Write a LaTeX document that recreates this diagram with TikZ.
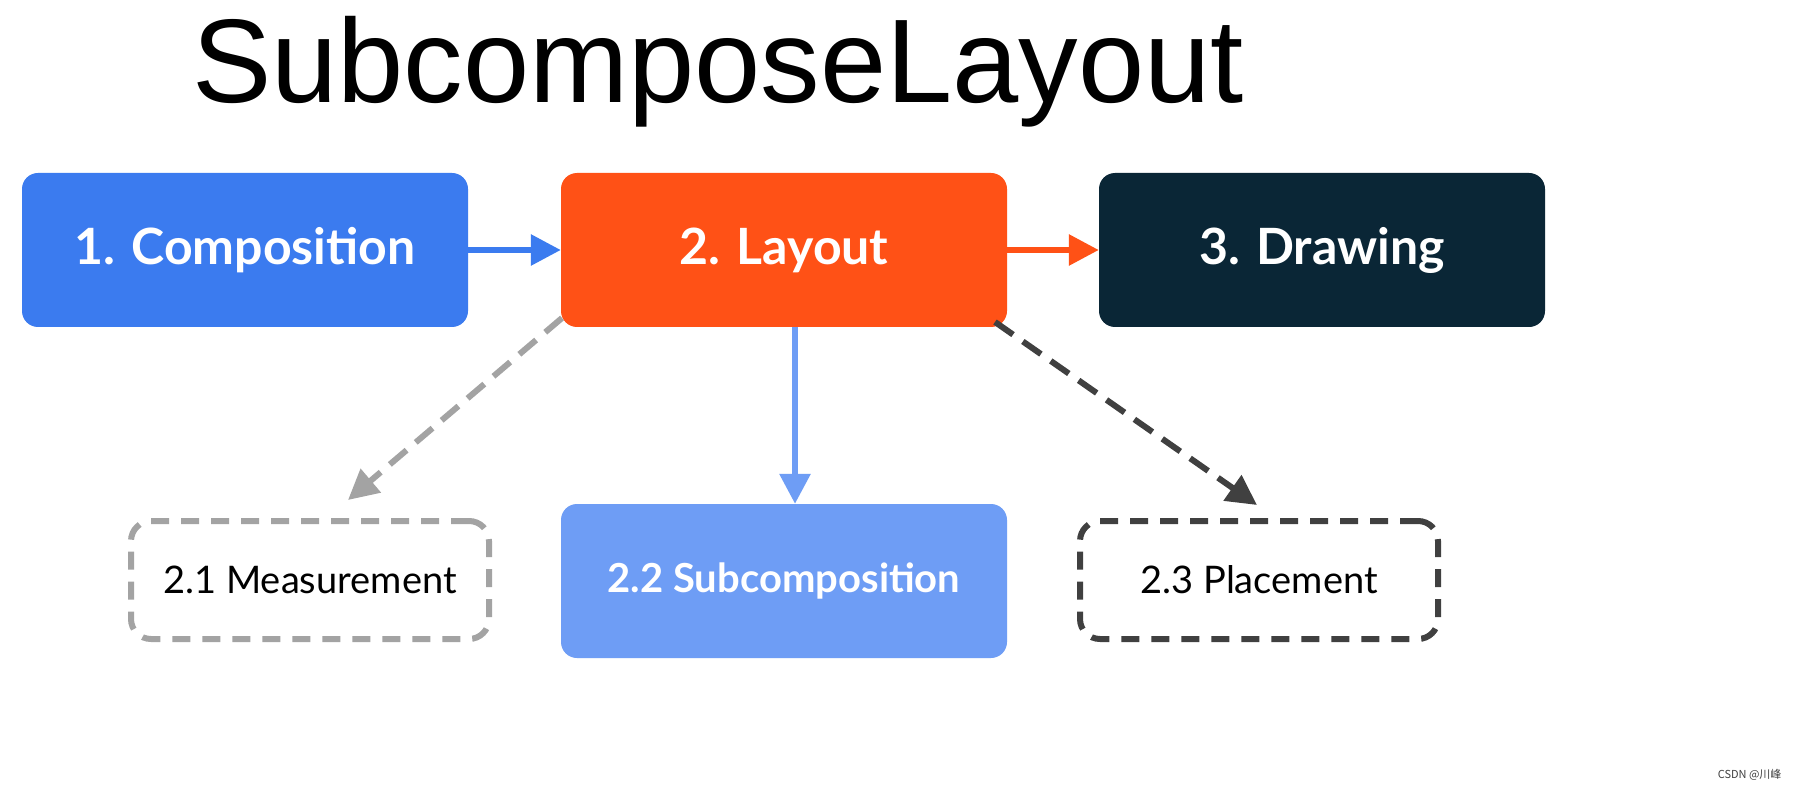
\documentclass[tikz,border=0pt]{standalone}
\usepackage{fontspec}
\setmainfont{Liberation Sans}
\newfontfamily\boxfont{Lato}
\newfontfamily\cjk{Noto Sans CJK SC}
\usetikzlibrary{arrows.meta}
\definecolor{cblue}{HTML}{3B7BEF}
\definecolor{corange}{HTML}{FF5116}
\definecolor{cdark}{HTML}{0A2636}
\definecolor{clblue}{HTML}{6E9DF5}
\definecolor{cgray}{HTML}{A3A3A3}
\definecolor{cdgray}{HTML}{404040}
\begin{document}
\begin{tikzpicture}[x=1pt,y=-1pt,
  box/.style={rounded corners=16pt,minimum width=446pt,minimum height=154pt,text=white,inner sep=0pt,
    font=\boxfont\bfseries\fontsize{50}{50}\selectfont},
  dbox/.style={rounded corners=20pt,minimum width=358pt,minimum height=118pt,line width=6pt,
    dash pattern=on 18pt off 12pt,inner sep=0pt,font=\boxfont\fontsize{38}{38}\selectfont},
  arr/.style={line width=6pt,-{Triangle[length=30pt,width=30pt]}}]
\useasboundingbox (0,0) rectangle (1795,791);
\fill[white] (0,0) rectangle (1795,791);
\node (title) at (718,72) {\fontsize{119}{119}\selectfont SubcomposeLayout};
\node[box,fill=cblue] (comp) at (245,250) {1. Composition};
\node[box,fill=corange] (lay) at (784,250) {2. Layout};
\node[box,fill=cdark] (draw) at (1322,250) {3. Drawing};
\node[dbox,draw=cgray] (meas) at (310,580) {2.1 Measurement};
\node[box,fill=clblue,font=\boxfont\bfseries\fontsize{40}{40}\selectfont] (sub) at (784,581) {2.2 Subcomposition};
\node[dbox,draw=cdgray] (place) at (1259,580) {2.3 Placement};
\draw[arr,cblue] (comp.east) -- (lay.west);
\draw[arr,corange] (lay.east) -- (draw.west);
\draw[arr,clblue] (lay.south -| 795,0) -- (sub.north -| 795,0);
\coordinate (m1) at (562,318);
\coordinate (m2) at (348,500);
\coordinate (p1) at (995,322);
\coordinate (p2) at (1257,505);
\draw[arr,cgray,dash pattern=on 22pt off 12pt] (m1) -- (m2);
\draw[arr,cdgray,dash pattern=on 22pt off 12pt] (p1) -- (p2);
\node[text=cdgray,font=\cjk\fontsize{11}{11}\selectfont,anchor=east] (wm) at (1785,775) {CSDN @川峰};
\end{tikzpicture}
\end{document}
